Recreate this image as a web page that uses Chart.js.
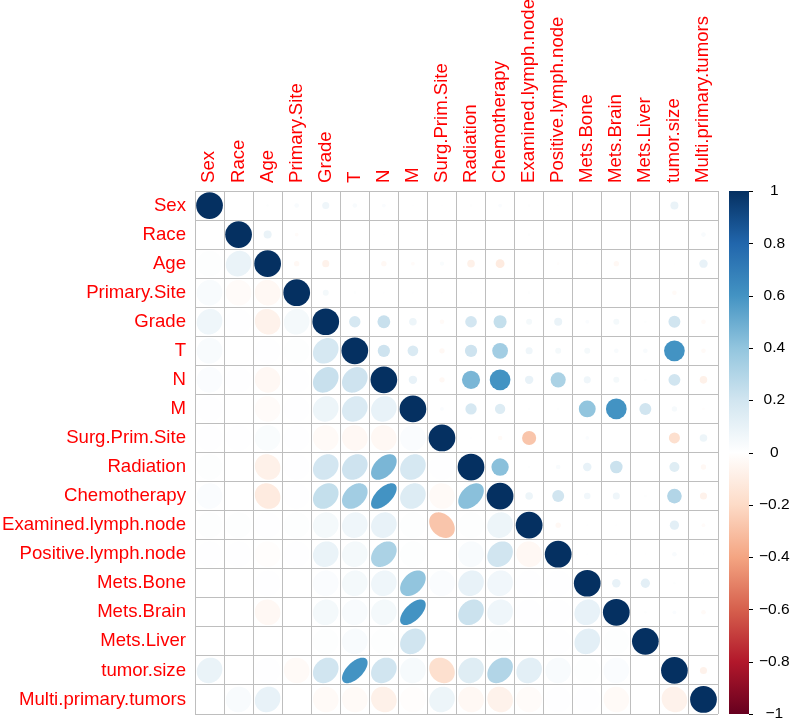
<!DOCTYPE html>
<html>
<head>
<meta charset="utf-8">
<script src="https://cdn.jsdelivr.net/npm/chart.js@4.4.0/dist/chart.umd.min.js"></script>
<style>
  html, body { margin: 0; padding: 0; background: #fff; }
  #corrChart { display: block; }
</style>
</head>
<body>
<canvas id="corrChart" width="790" height="723"></canvas>
<script>
const variables = ['Sex', 'Race', 'Age', 'Primary.Site', 'Grade', 'T', 'N', 'M', 'Surg.Prim.Site',
  'Radiation', 'Chemotherapy', 'Examined.lymph.node', 'Positive.lymph.node', 'Mets.Bone',
  'Mets.Brain', 'Mets.Liver', 'tumor.size', 'Multi.primary.tumors'];

// correlation of each variable with the variables that come after it
const corSex = [0, 0.01, 0.03, 0.07, 0.03, 0.02, 0.005, 0.005, 0.01, 0.02, 0.01, 0.005, 0, 0, 0, 0.09, 0];
const corRace = [0.09, -0.02, 0.005, 0, 0.005, 0, 0.005, 0, 0, 0.01, 0.005, 0, 0, 0, 0, 0.03];
const corAge = [-0.04, -0.07, 0.005, -0.04, -0.02, 0.025, -0.08, -0.11, 0.005, -0.01, 0.005, -0.04, 0, 0.005, 0.1];
const corPrimarySite = [0.05, 0.01, 0.005, 0.005, 0.005, 0.005, 0.005, 0.01, 0.005, 0, 0, 0, -0.03, 0];
const corGrade = [0.18, 0.23, 0.08, -0.03, 0.19, 0.24, 0.05, 0.09, 0.02, 0.05, 0.01, 0.2, -0.03];
const corT = [0.21, 0.16, -0.04, 0.21, 0.35, 0.07, 0.05, 0.05, 0.03, 0.03, 0.6, -0.03];
const corN = [0.1, -0.04, 0.46, 0.6, 0.1, 0.32, 0.07, 0.05, 0.01, 0.2, -0.08];
const corM = [0.02, 0.18, 0.15, 0.01, 0.01, 0.4, 0.6, 0.2, 0.04, -0.01];
const corSurg = [0.005, -0.03, -0.28, 0, 0.02, 0, 0, -0.17, 0.08];
const corRadiation = [0.42, 0.01, 0.03, 0.1, 0.22, 0, 0.14, -0.04];
const corChemo = [0.08, 0.2, 0.06, 0.07, 0.01, 0.3, -0.07];
const corExamined = [-0.04, 0.005, 0.005, 0, 0.12, -0.02];
const corPositive = [0.005, 0.005, 0.005, 0.03, 0.005];
const corBone = [0.1, 0.12, 0.01, 0.005];
const corBrain = [0.01, 0.02, -0.03];
const corLiver = [0, 0];
const corTumorSize = [-0.07];

const upperRows = [corSex, corRace, corAge, corPrimarySite, corGrade, corT, corN, corM, corSurg,
  corRadiation, corChemo, corExamined, corPositive, corBone, corBrain, corLiver, corTumorSize];

const colorbarTicks = [-1, -0.8, -0.6, -0.4, -0.2, 0, 0.2, 0.4, 0.6, 0.8, 1];

// RdBu ramp, from -1 to 1
const palette = ['#67001F', '#B2182B', '#D6604D', '#F4A582', '#FDDBC7', '#FFFFFF',
  '#D1E5F0', '#92C5DE', '#4393C3', '#2166AC', '#053061'];

const n = variables.length;
const corr = [];
for (let i = 0; i < n; i++) {
  corr.push(new Array(n).fill(0));
  corr[i][i] = 1;
}
upperRows.forEach((row, i) => {
  row.forEach((v, k) => {
    const j = i + 1 + k;
    corr[i][j] = v;
    corr[j][i] = v;
  });
});

function hexToRgb(h) {
  return [parseInt(h.slice(1, 3), 16), parseInt(h.slice(3, 5), 16), parseInt(h.slice(5, 7), 16)];
}

function corColor(v) {
  const pos = (v + 1) / 2 * (palette.length - 1);
  const i = Math.min(Math.floor(pos), palette.length - 2);
  const t = pos - i;
  const a = hexToRgb(palette[i]);
  const b = hexToRgb(palette[i + 1]);
  const c = a.map((x, k) => Math.round(x + (b[k] - x) * t));
  return `rgb(${c[0]},${c[1]},${c[2]})`;
}

// circles on the diagonal and upper triangle
const circlePoints = [];
for (let i = 0; i < n; i++) {
  for (let j = i; j < n; j++) {
    circlePoints.push({ x: variables[j], y: variables[i], v: corr[i][j] });
  }
}

function cellSize(chart) {
  const xs = chart.scales.x;
  return xs.getPixelForValue(1) - xs.getPixelForValue(0);
}

// ellipses in the lower triangle
const ellipsePlugin = {
  id: 'ellipses',
  beforeDatasetsDraw(chart) {
    const { ctx } = chart;
    const xs = chart.scales.x;
    const ys = chart.scales.y;
    const s = cellSize(chart) * 0.88;
    for (let i = 1; i < n; i++) {
      for (let j = 0; j < i; j++) {
        const v = corr[i][j];
        const cx = xs.getPixelForValue(j);
        const cy = ys.getPixelForValue(i);
        const d = Math.acos(Math.max(-0.999, Math.min(0.999, v))) / 2;
        ctx.save();
        ctx.beginPath();
        for (let k = 0; k <= 100; k++) {
          const t = k / 100 * Math.PI * 2;
          const ex = Math.cos(t + d) / 2 * s;
          const ey = Math.cos(t - d) / 2 * s;
          if (k === 0) ctx.moveTo(cx + ex, cy - ey);
          else ctx.lineTo(cx + ex, cy - ey);
        }
        ctx.closePath();
        ctx.fillStyle = corColor(v);
        ctx.fill();
        ctx.restore();
      }
    }
  }
};

// colour legend bar on the right
const colorbarPlugin = {
  id: 'colorbar',
  afterDraw(chart) {
    const { ctx } = chart;
    const cb = chart.scales.cb;
    const top = cb.getPixelForValue(1);
    const bottom = cb.getPixelForValue(-1);
    const x0 = cb.left + 11;
    const w = 20;
    const grad = ctx.createLinearGradient(0, bottom, 0, top);
    palette.forEach((c, i) => grad.addColorStop(i / (palette.length - 1), c));
    ctx.save();
    ctx.fillStyle = grad;
    ctx.fillRect(x0, top, w, bottom - top);
    ctx.strokeStyle = '#000';
    ctx.lineWidth = 1;
    colorbarTicks.forEach(t => {
      const y = Math.round(cb.getPixelForValue(t)) + 0.5;
      ctx.beginPath();
      ctx.moveTo(x0 + w, y);
      ctx.lineTo(x0 + w + 4, y);
      ctx.stroke();
    });
    ctx.restore();
  }
};

Chart.defaults.font.family = "'Liberation Sans', Arial, sans-serif";

const ctx = document.getElementById('corrChart').getContext('2d');
const corrChart = new Chart(ctx, {
  type: 'scatter',
  data: {
    datasets: [{
      data: circlePoints,
      pointRadius: c => 0.46 * cellSize(c.chart) * Math.sqrt(Math.abs(c.raw.v)),
      pointBackgroundColor: c => corColor(c.raw.v),
      pointBorderWidth: 0
    }]
  },
  options: {
    responsive: false,
    animation: false,
    events: [],
    layout: { padding: { left: 0, top: 0, right: 0, bottom: 9 } },
    plugins: { legend: { display: false }, tooltip: { enabled: false } },
    scales: {
      x: {
        type: 'category',
        labels: variables,
        position: 'top',
        offset: true,
        grid: { offset: true, color: '#BEBEBE', drawTicks: false },
        border: { color: '#BEBEBE' },
        ticks: {
          color: '#FF0000',
          font: { size: 18.6, lineHeight: 0.01 },
          minRotation: 90,
          maxRotation: 90,
          autoSkip: false,
          padding: 8
        },
        afterFit: s => {
          s.height = 191;
          s.paddingLeft = 0;
          s.paddingRight = 0;
        }
      },
      y: {
        type: 'category',
        labels: variables,
        position: 'left',
        offset: true,
        grid: { offset: true, color: '#BEBEBE', drawTicks: false },
        border: { color: '#BEBEBE' },
        ticks: {
          color: '#FF0000',
          font: { size: 18.6 },
          autoSkip: false,
          padding: 9
        },
        afterFit: s => {
          s.width = 195;
          s.paddingTop = 0;
          s.paddingBottom = 0;
        }
      },
      cb: {
        type: 'linear',
        position: 'right',
        min: -1,
        max: 1,
        grid: { display: false },
        border: { display: false },
        afterBuildTicks: s => { s.ticks = colorbarTicks.map(v => ({ value: v })); },
        ticks: {
          color: '#000',
          font: { size: 15.5 },
          crossAlign: 'center',
          padding: 33,
          callback: v => (v < 0 ? '\u2212' + Math.abs(v) : String(v))
        },
        afterFit: s => {
          s.width = 72;
          s.paddingTop = 0;
          s.paddingBottom = 0;
        }
      }
    }
  },
  plugins: [ellipsePlugin, colorbarPlugin]
});
</script>
</body>
</html>
